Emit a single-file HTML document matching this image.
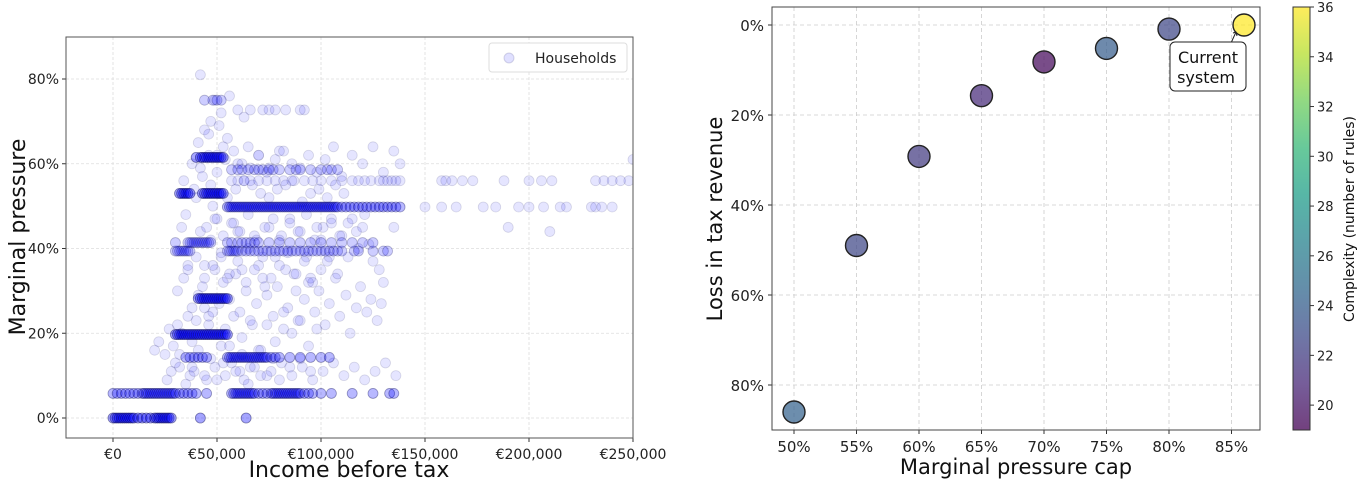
<!DOCTYPE html>
<html><head><meta charset="utf-8"><style>
body{margin:0;background:#fff;width:1368px;height:480px;overflow:hidden;font-family:"DejaVu Sans","Liberation Sans",sans-serif}
svg{position:absolute;left:0;top:0}
</style></head><body>
<svg id="c" width="1368" height="480" viewBox="0 0 1368 480"></svg>
<script>
// ---- left chart data ----
const bandLevels=[0,5.8,14.3,19.7,28.2,39.4,41.4,49.8,53,56,58.6,61.5,72.7,75,49.8,56];
const bandIncomes=[
[0,1,2,3,4,5,6,7,8,9,10,12,14,16,18,20,21,22,23,24,25,26,27,28,42,64],
[0,2,4,6,8,10,12,14,15,16,17,18,19,20,21,22,23,24,25,26,27,28,29,30,32,34,36,38,40,45,57,58,59,60,61,62,63,64,65,66,67,68,70,72,74,76,77,78,79,80,81,82,83,84,85,86,87,88,89,90,92,94,96,100,105,115,125,133,135],
[35,37,39,41,43,45,55,56,57,58,59,60,61,62,63,64,65,66,67,68,69,70,71,72,73,74,76,78,80,85,90,95,100,104],
[30,31,32,33,34,35,36,37,38,39,40,41,42,43,44,45,46,47,48,49,50,51,52,53,54,55],
[41,42,43,44,45,46,47,48,49,50,51,52,53,54,55],
[30,31,32,33,34,35,36,37,55,56,57,58,59,60,62,64,66,68,70,72,74,76,78,80,82,84,86,88,90,92,94,96,98,100,102,104,106,108,110,116,118,125,130,132],
[30,36,37,38,39,40,41,42,43,44,45,46,47,55,57,60,62,64,66,68,70,75,80,85,90,95,100,105,110,115,120,125],
[55,56,57,58,59,60,61,62,63,64,65,66,67,68,69,70,71,72,73,74,75,76,77,78,79,80,81,82,83,84,85,86,87,88,89,90,91,92,93,94,95,96,97,98,99,100,101,102,103,104,105,106,107,108,110,112,114,116,118,120,122,124,126,128,130,132,134,136,138],
[32,33,34,35,36,37,43,44,45,46,47,48,49,50,51,52,53],
[57,60,63,66,70,74,78,82,86,92,96,100,105,110,115,118,121,124,128,130,132,134,136,138],
[57,60,62,65,68,70,72,75,77,80,85,88,90,95,100,103,105,108],
[40,42,43,44,45,46,47,48,49,50,51,52,53],
[60,66,72,75,78,83,90,92],
[44,48,50,52],
[150,158,165,178,184,195,200,207,215,218,230,232,235,240],
[158,163,168,173,188,200,206,211,232,236,240,244,248]];
const bandCounts=[4,3,3,4,4,2,2,3,4,1,2,4,1,2,1,1];
const cloudIncome=[33,35,40,42,44,47,48,50,52,55,58,60,62,65,68,70,73,75,78,80,83,85,88,90,93,95,98,100,103,105,108,110,113,115,118,120,123,125,128,130,135,
31,34,36,38,41,43,46,49,51,53,56,59,61,64,67,69,72,74,77,79,82,84,87,89,92,94,97,99,102,104,107,109,112,114,117,119,122,124,127,129,
32,37,39,45,49,54,57,61,63,66,71,76,81,86,91,96,101,106,111,116,121,126,131,136,
20,22,25,27,29,31,33,36,38,40,44,46,48,52,54,58,62,66,70,74,78,82,86,90,94,98,
34,39,43,47,51,55,59,63,67,71,75,79,83,87,91,95,99,103,107,111,
41,44,47,50,53,52,46,49,55,51,42,60,65,70,75,80,56,63,
26,28,30,32,35,38,41,44,47,50,53,56,59,62,65,68,71,74,77,80,85,90,95,
45,49,53,57,61,65,69,73,77,81,85,89,93,97,101,105,109,113,117,121,
36,40,44,48,52,56,60,64,68,72,76,80,84,88,92,96,100,104,
38,42,46,50,54,58,62,66,70,74,78,82,86,90,94,98,102,106,110,115,120,125,130,135,138,160,190,210,250];
const cloudPressure=[45,48,52,44,36,42,50,47,38,33,46,44,35,40,43,36,31,45,38,42,35,47,30,44,38,33,45,42,37,46,34,43,38,47,40,45,41,37,35,32,45,
30,33,36,26,29,31,24,35,27,32,28,34,25,30,22,27,33,29,24,31,21,26,34,23,28,32,25,30,22,27,33,24,29,20,26,31,25,28,23,27,
12,10,11,9,12,10,13,11,9,12,10,11,13,10,12,9,11,13,10,12,9,11,13,10,
16,18,15,21,17,22,20,24,18,23,26,22,25,17,21,24,19,23,16,22,18,25,20,23,17,21,
56,54,57,55,53,52,54,56,55,53,52,54,55,56,51,53,54,52,55,53,
65,68,70,62,64,72,67,75,66,69,81,60,64,62,59,63,76,71,
9,11,13,15,8,12,16,10,14,9,13,17,11,15,8,12,16,10,14,9,12,14,11,
45,47,43,46,44,48,42,45,47,43,46,44,48,42,45,47,43,46,44,48,
35,38,33,36,39,34,37,32,35,38,33,36,39,34,37,32,35,38,
60,59,62,58,61,63,60,59,62,58,61,63,60,59,62,58,61,64,57,62,60,64,58,63,60,56,45,44,61];
// ---- right chart data ----
const capLabels=["50%","55%","60%","65%","70%","75%","80%","85%"];
const capValues=[50,55,60,65,70,75,80,86];
const lossValues=[86,49,29.2,15.7,8.2,5.2,0.9,0];
const complexity=[24.3,22.6,21.9,21,19.4,24,22.6,36];
const lossTicks=[0,20,40,60,80];
const cbTicks=[20,22,24,26,28,30,32,34,36];
const incomeTicks=[0,50000,100000,150000,200000,250000];
const pressureTicks=[0,20,40,60,80];

const NS="http://www.w3.org/2000/svg",svg=document.getElementById('c');
function el(t,a,p){const e=document.createElementNS(NS,t);for(const k in a)e.setAttribute(k,a[k]);(p||svg).appendChild(e);return e;}
function txt(s,a,p){const e=el('text',a,p);e.textContent=s;return e;}

// ===== left =====
const L={x0:66,x1:633,y0:37,y1:438};
const X=k=>113+k*104/50, Y=p=>418-p*84.75/20;
const gl=el('g',{});


incomeTicks.forEach(v=>{const x=X(v/1000);
 el('line',{x1:x,x2:x,y1:L.y0,y2:L.y1,stroke:'#ddd','stroke-dasharray':'3,2','stroke-width':0.8},gl);
 el('line',{x1:x,x2:x,y1:L.y1,y2:L.y1+4,stroke:'#333'},gl);
 const t=txt('€'+v.toLocaleString('en-US'),{x:x,y:L.y1+21,'font-size':14,'text-anchor':'middle',fill:'#222'},gl);
 });
pressureTicks.forEach(v=>{const y=Y(v);
 el('line',{x1:L.x0,x2:L.x1,y1:y,y2:y,stroke:'#ddd','stroke-dasharray':'3,2','stroke-width':0.8},gl);
 el('line',{x1:L.x0-4,x2:L.x0,y1:y,y2:y,stroke:'#333'},gl);
 const t=txt(v+'%',{x:L.x0-7,y:y+5,'font-size':14,'text-anchor':'end',fill:'#222'},gl);
 });
const clip=el('clipPath',{id:'lc'});el('rect',{x:L.x0,y:L.y0,width:L.x1-L.x0,height:L.y1-L.y0},clip);
const pts=el('g',{'clip-path':'url(#lc)'},gl);

function dot(k,p){const c=el('circle',{cx:X(k),cy:Y(p),r:5,fill:'rgba(0,0,255,0.1)',stroke:'rgba(0,0,80,0.14)','stroke-width':0.8},pts);
 }
cloudIncome.forEach((k,i)=>dot(k,cloudPressure[i]));
bandLevels.forEach((p,b)=>bandIncomes[b].forEach(k=>{for(let m=0;m<bandCounts[b];m++)dot(k,p);}));
el('rect',{x:L.x0,y:L.y0,width:L.x1-L.x0,height:L.y1-L.y0,fill:'none',stroke:'#555','stroke-width':1},gl);
const lg=el('g',{},gl);
el('rect',{x:489,y:43,width:138,height:29,rx:3,fill:'#fff',stroke:'#ddd'},lg);
el('circle',{cx:509,cy:58,r:5,fill:'rgba(0,0,255,0.12)',stroke:'rgba(0,0,90,0.15)'},lg);
txt('Households',{x:535,y:63,'font-size':14,fill:'#222'},lg);
const xt=txt('Income before tax',{x:349,y:477,'font-size':22,'text-anchor':'middle',fill:'#111'},gl);

const yt=txt('Marginal pressure',{x:0,y:0,'font-size':22,'text-anchor':'middle',fill:'#111',transform:'translate(25,237) rotate(-90)'},gl);


// ===== right =====
const R={x0:772,x1:1260,y0:7,y1:430};
const RX=c=>794+(c-50)*62.5/5, RY=l=>25+l*4.5;
const vir=[[68,1,84],[72,40,120],[62,74,137],[49,104,142],[38,130,142],[31,158,137],[53,183,121],[109,205,89],[180,222,44],[253,231,37]];
function viridis(t){t=Math.max(0,Math.min(1,t));const f=t*(vir.length-1),i=Math.min(Math.floor(f),vir.length-2),u=f-i;
 const a=vir[i],b=vir[i+1];return 'rgb('+a.map((v,j)=>Math.round(v+(b[j]-v)*u)).join(',')+')';}
const cmin=19,cmax=36;
const gr=el('g',{});
capLabels.forEach((s,i)=>{const x=RX(50+5*i);
 el('line',{x1:x,x2:x,y1:R.y0,y2:R.y1,stroke:'#ccc','stroke-dasharray':'4,3','stroke-width':0.8},gr);
 el('line',{x1:x,x2:x,y1:R.y1,y2:R.y1+4,stroke:'#333'},gr);
 const t=txt(s,{x:x,y:R.y1+22,'font-size':15,'text-anchor':'middle',fill:'#222'},gr);
 });
lossTicks.forEach(v=>{const y=RY(v);
 el('line',{x1:R.x0,x2:R.x1,y1:y,y2:y,stroke:'#ccc','stroke-dasharray':'4,3','stroke-width':0.8},gr);
 el('line',{x1:R.x0-4,x2:R.x0,y1:y,y2:y,stroke:'#333'},gr);
 const t=txt(v+'%',{x:R.x0-8,y:y+6,'font-size':15,'text-anchor':'end',fill:'#222'},gr);
 });
el('rect',{x:R.x0,y:R.y0,width:R.x1-R.x0,height:R.y1-R.y0,fill:'none',stroke:'#444','stroke-width':1},gr);
capValues.forEach((c,i)=>{const p=el('circle',{cx:RX(c),cy:RY(lossValues[i]),r:11,fill:viridis((complexity[i]-cmin)/(cmax-cmin)),'fill-opacity':0.72,stroke:'#222','stroke-width':1.4},gr);
 });
const an=el('g',{},gr);
const ax=RX(capValues[7]),ay=RY(lossValues[7]);
el('line',{x1:ax-13,x2:ax-8,y1:ay+18,y2:ay+7,stroke:'#222','stroke-width':1},an);
el('path',{d:`M${ax-11} ${ay+8} L${ax-8} ${ay+7} L${ax-7} ${ay+11}`,fill:'none',stroke:'#222','stroke-width':1},an);
el('rect',{x:1170,y:42,width:76,height:49,rx:5,fill:'#fff',stroke:'#222','stroke-width':1},an);
txt('Current',{x:1208,y:63,'font-size':16,'text-anchor':'middle',fill:'#111'},an);
txt('system',{x:1206,y:83,'font-size':16,'text-anchor':'middle',fill:'#111'},an);
const rxt=txt('Marginal pressure cap',{x:1016,y:474,'font-size':21,'text-anchor':'middle',fill:'#111'},gr);

const ryt=txt('Loss in tax revenue',{x:0,y:0,'font-size':21,'text-anchor':'middle',fill:'#111',transform:'translate(722,219) rotate(-90)'},gr);

const cb=el('g',{});
const grad=el('linearGradient',{id:'vg',x1:0,y1:1,x2:0,y2:0});
vir.forEach((c,i)=>el('stop',{offset:i/(vir.length-1),'stop-color':'rgb('+c.join(',')+')','stop-opacity':0.75},grad));
const CY=v=>7+(cmax-v)*(423/(cmax-cmin));
el('rect',{x:1293,y:7,width:17,height:423,fill:'url(#vg)',stroke:'#333','stroke-width':1},cb);
cbTicks.forEach(v=>{const y=CY(v);el('line',{x1:1310,x2:1314,y1:y,y2:y,stroke:'#333'},cb);
 const t=txt(v,{x:1317,y:y+5,'font-size':13,fill:'#222'},cb);});
txt('Complexity (number of rules)',{x:0,y:0,'font-size':14,'text-anchor':'middle',fill:'#111',transform:'translate(1354,219) rotate(-90)'},cb);
</script>
</body></html>
